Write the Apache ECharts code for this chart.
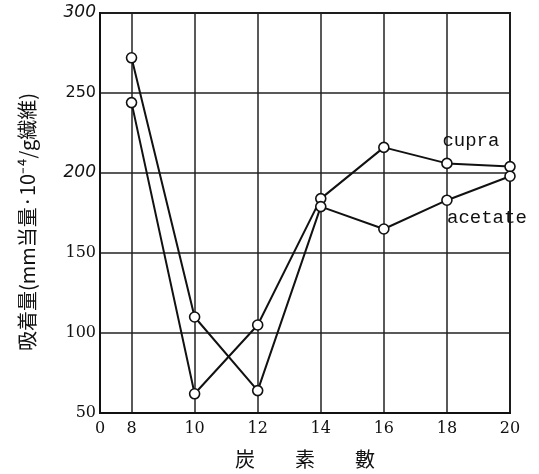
<!DOCTYPE html>
<html>
<head>
<meta charset="utf-8">
<script src="https://cdn.jsdelivr.net/npm/echarts@6/dist/echarts.min.js"></script>
<style>
  html, body { margin: 0; padding: 0; background: #fff; }
  #chart { width: 539px; height: 474px; }
</style>
</head>
<body>
<div id="chart"></div>
<script>
// Carbon number of the adsorbate (x) and amount adsorbed (y) for two fibres
const carbonNumbers = [8, 10, 12, 14, 16, 18, 20];
const cupraValues   = [244, 62, 105, 184, 216, 206, 204];
const acetateValues = [272, 110, 64, 179, 165, 183, 198];

// The x axis is broken: its left end is labelled 0, then 8 … 20
const xAxisStart = 7;
const xTickLabels = { 7: '0', 8: '8', 10: '10', 12: '12', 14: '14', 16: '16', 18: '18', 20: '20' };
const yTickLabels = [50, 100, 150, 200, 250, 300];

const seriesNames = ['cupra', 'acetate'];
const yAxisTitle = '吸着量(mm当量·10⁻⁴/g繊維)';
const xAxisTitle = '炭　　素　　數';

const pairs = vals => carbonNumbers.map((c, i) => [c, vals[i]]);

function withLabel(data, idx, text, offset) {
  return data.map((d, i) => i === idx ? {
    value: d,
    label: {
      show: true, position: 'inside', offset: offset, formatter: text,
      fontFamily: 'Liberation Mono', fontSize: 19, color: '#111'
    }
  } : d);
}

const chart = echarts.init(document.getElementById('chart'), null, { renderer: 'canvas' });

const lineSeries = (name, vals, labelOffset) => ({
  name: name,
  type: 'line',
  data: withLabel(pairs(vals), 5, name, labelOffset),
  symbol: 'circle',
  symbolSize: 10,
  lineStyle: { color: '#111', width: 2 },
  itemStyle: { color: '#fff', borderColor: '#111', borderWidth: 1.6 },
  emphasis: { disabled: true },
  z: 3
});

chart.setOption({
  backgroundColor: '#fff',
  animation: false,
  grid: {
    left: 100, right: 29, top: 13, bottom: 61,
    show: true, borderColor: '#111', borderWidth: 2, backgroundColor: 'transparent'
  },
  xAxis: {
    type: 'value',
    min: xAxisStart, max: 20, interval: 1,
    axisLine: { show: true, lineStyle: { color: '#111', width: 2 } },
    axisTick: { show: false },
    axisLabel: {
      margin: 8,
      fontFamily: 'DejaVu Serif', fontSize: 16, color: '#111',
      formatter: v => xTickLabels[v] || ''
    },
    splitLine: {
      show: true,
      lineStyle: { color: ['rgba(0,0,0,0)', '#222'], width: 1.5 }
    },
    name: xAxisTitle,
    nameLocation: 'middle',
    nameGap: 36,
    nameTextStyle: { fontFamily: 'Noto Sans CJK JP', fontSize: 20, color: '#111' }
  },
  yAxis: {
    type: 'value',
    min: yTickLabels[0], max: yTickLabels[yTickLabels.length - 1], interval: 50,
    axisLine: { show: true, lineStyle: { color: '#111', width: 2 } },
    axisTick: { show: false },
    axisLabel: {
      margin: 4,
      color: '#111',
      formatter: v => {
        if (v === 300 || v === 200) return '{it|' + v + '}';
        if (v === 250) return '{sans|' + v + '}';
        return '{serif|' + v + '}';
      },
      rich: {
        it: { fontFamily: 'DejaVu Sans', fontStyle: 'italic', fontSize: 17, color: '#111' },
        sans: { fontFamily: 'DejaVu Sans', fontSize: 16, color: '#111' },
        serif: { fontFamily: 'DejaVu Serif', fontSize: 16, color: '#111' }
      }
    },
    splitLine: { show: true, lineStyle: { color: '#222', width: 1.5 } },
    name: yAxisTitle,
    nameLocation: 'middle',
    nameGap: 63,
    nameRotate: 90,
    nameTextStyle: { fontFamily: 'Noto Sans CJK JP', fontSize: 20, color: '#111', padding: [0, 18, 0, 0] }
  },
  series: [
    lineSeries(seriesNames[0], cupraValues, [24, -22]),
    lineSeries(seriesNames[1], acetateValues, [40, 18])
  ]
});
</script>
</body>
</html>
